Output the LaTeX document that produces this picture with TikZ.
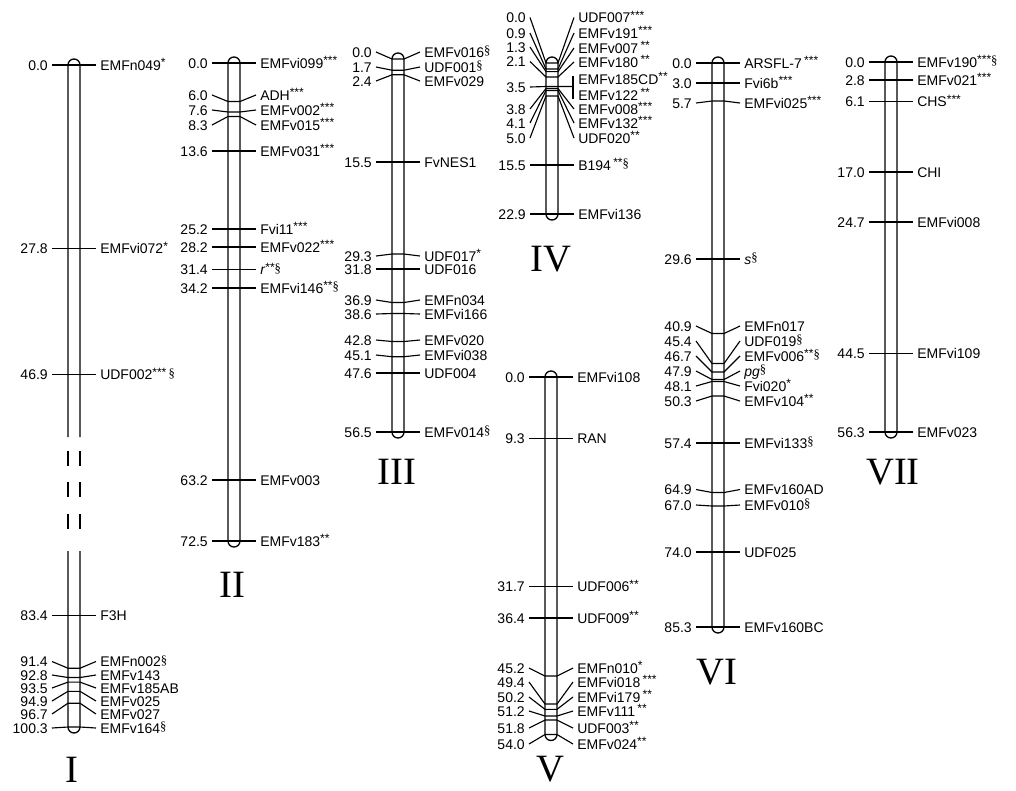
\documentclass[tikz,border=0pt]{standalone}
\usepackage{fontspec}
\setmainfont{Liberation Sans}
\newfontfamily\serif{Liberation Serif}
\newcounter{mk}
\newcommand\sx[1]{\raisebox{2.6pt}{\fontsize{9}{9}\selectfont #1}}
\newcommand\sg{{\serif\fontsize{9.5}{9.5}\selectfont\raisebox{1.6pt}{§}}}
\newcommand\mkr[6]{%
  \stepcounter{mk}%
  \node[numl] (N\themk) at (#1-26,#3) {#5};
  \node[nml] (M\themk) at (#1+26,#4) {#6};
  \coordinate (A\themk) at (#1-6,#2);
  \coordinate (B\themk) at (#1+6,#2);
  \draw[tk] ([xshift=3pt]N\themk.east) -- (A\themk) -- (B\themk) -- ([xshift=-3pt]M\themk.west);
}
\newcommand\chrbar[3]{\draw[barst,rounded corners=4.5pt] (#1-6,#2-6) rectangle (#1+6,#3+6);}
\tikzset{
  numl/.style={anchor=east,inner sep=0pt,text height=7.5pt,text depth=0pt,font=\fontsize{10.5}{12}\selectfont},
  nml/.style={anchor=west,inner sep=0pt,text height=7.5pt,text depth=0pt,font=\fontsize{10.5}{12}\selectfont},
  tk/.style={line width=0.85pt},
  barst/.style={line width=1pt},
  roman/.style={inner sep=0pt,font=\serif\fontsize{29}{29}\selectfont}
}
\begin{document}
\begin{tikzpicture}[x=0.75pt,y=-0.75pt]
\useasboundingbox (0,0) rectangle (1016,790);
% ---------- I ----------
\draw[barst,rounded corners=4.5pt] (68,437) -- (68,59) -- (80,59) -- (80,437);
\draw[barst] (68,451) -- (68,466) (80,451) -- (80,466)
             (68,482) -- (68,497) (80,482) -- (80,497)
             (68,514) -- (68,529) (80,514) -- (80,529);
\draw[barst,rounded corners=4.5pt] (68,551) -- (68,733) -- (80,733) -- (80,551);
\mkr{74}{65}{65}{65}{0.0}{EMFn049\sx{*}}
\mkr{74}{248.5}{248.5}{248.5}{27.8}{EMFvi072\sx{*}}
\mkr{74}{374.5}{374.5}{374.5}{46.9}{UDF002\sx{***}\,\sg}
\mkr{74}{615.5}{615.5}{615.5}{83.4}{F3H}
\mkr{74}{668.2}{661.5}{661.5}{91.4}{EMFn002\sg}
\mkr{74}{677.5}{675}{675}{92.8}{EMFv143}
\mkr{74}{682.1}{688}{688}{93.5}{EMFv185AB}
\mkr{74}{691.3}{701}{701}{94.9}{EMFv025}
\mkr{74}{703.2}{714}{714}{96.7}{EMFv027}
\mkr{74}{727}{728}{728}{100.3}{EMFv164\sg}
\node[roman] (rI) at (72,770) {I};
% ---------- II ----------
\chrbar{234}{63}{541}
\mkr{234}{63}{63}{63}{0.0}{EMFvi099\sx{***}}
\mkr{234}{101.5}{95}{95}{6.0}{ADH\sx{***}}
\mkr{234}{112}{110}{110}{7.6}{EMFv002\sx{***}}
\mkr{234}{116.5}{125}{125}{8.3}{EMFv015\sx{***}}
\mkr{234}{151}{151}{151}{13.6}{EMFv031\sx{***}}
\mkr{234}{229}{229}{229}{25.2}{Fvi11\sx{***}}
\mkr{234}{247}{247}{247}{28.2}{EMFv022\sx{***}}
\mkr{234}{269.5}{269.5}{269.5}{31.4}{\textit{r}\sx{**}\sg}
\mkr{234}{288}{288}{288}{34.2}{EMFvi146\sx{**}\sg}
\mkr{234}{480}{480}{480}{63.2}{EMFv003}
\mkr{234}{541}{541}{541}{72.5}{EMFv183\sx{**}}
\node[roman] (rII) at (232,585) {II};
% ---------- III ----------
\chrbar{398}{59}{432}
\mkr{398}{59}{52}{52}{0.0}{EMFv016\sg}
\mkr{398}{70.2}{67}{67}{1.7}{UDF001\sg}
\mkr{398}{74.8}{81}{81}{2.4}{EMFv029}
\mkr{398}{162}{162}{162}{15.5}{FvNES1}
\mkr{398}{254}{256}{256}{29.3}{UDF017\sx{*}}
\mkr{398}{269}{269}{269}{31.8}{UDF016}
\mkr{398}{302.5}{300}{300}{36.9}{EMFn034}
\mkr{398}{313.5}{314}{314}{38.6}{EMFvi166}
\mkr{398}{341.5}{340}{340}{42.8}{EMFv020}
\mkr{398}{356.7}{355}{355}{45.1}{EMFvi038}
\mkr{398}{373}{373}{373}{47.6}{UDF004}
\mkr{398}{432}{432}{432}{56.5}{EMFv014\sg}
\node[roman] (rIII) at (397,472) {III};
% ---------- IV ----------
\chrbar{552}{63}{214}
\mkr{552}{63}{17.5}{17.5}{0.0}{UDF007\sx{***}}
\mkr{552}{69}{33}{33}{0.9}{EMFv191\sx{***}}
\mkr{552}{71.6}{47}{48}{1.3}{EMFv007\,\sx{**}}
\mkr{552}{77}{61.5}{62}{2.1}{EMFv180\,\sx{**}}
\node[numl] (N35) at (526,87) {3.5};
\coordinate (A35) at (546,86.5);
\coordinate (C35) at (573,86.5);
\coordinate (T35) at (573,76);
\coordinate (U35) at (573,99);
\node[nml] (M35a) at (578,79) {EMFv185CD\sx{**}};
\node[nml] (M35b) at (578,95) {EMFv122\,\sx{**}};
\draw[tk] ([xshift=3pt]N35.east) -- (A35) -- (C35);
\draw[tk] (T35) -- (U35);
\mkr{552}{88.5}{109}{109}{3.8}{EMFv008\sx{***}}
\mkr{552}{90.5}{123}{123}{4.1}{EMFv132\sx{***}}
\mkr{552}{96}{138}{138}{5.0}{UDF020\sx{**}}
\mkr{552}{165}{165}{165}{15.5}{B194\,\sx{**}\sg}
\mkr{552}{214}{214}{214}{22.9}{EMFvi136}
\node[roman] (rIV) at (551,259) {IV};
% ---------- V ----------
\chrbar{551}{377}{734.5}
\mkr{551}{377}{377}{377}{0.0}{EMFvi108}
\mkr{551}{438.5}{438.5}{438.5}{9.3}{RAN}
\mkr{551}{586.5}{586.5}{586.5}{31.7}{UDF006\sx{**}}
\mkr{551}{618}{618}{618}{36.4}{UDF009\sx{**}}
\mkr{551}{676}{668}{668}{45.2}{EMFn010\sx{*}}
\mkr{551}{704}{682}{682}{49.4}{EMFvi018\,\sx{***}}
\mkr{551}{709.3}{697}{697}{50.2}{EMFvi179\,\sx{**}}
\mkr{551}{716}{711}{711}{51.2}{EMFv111\,\sx{**}}
\mkr{551}{720}{728}{728}{51.8}{UDF003\sx{**}}
\mkr{551}{734.5}{744}{744}{54.0}{EMFv024\sx{**}}
\node[roman] (rV) at (550,769) {V};
% ---------- VI ----------
\chrbar{718}{63}{627}
\mkr{718}{63}{63}{63}{0.0}{ARSFL-7\,\sx{***}}
\mkr{718}{83}{83}{83}{3.0}{Fvi6b\sx{***}}
\mkr{718}{101}{103}{103}{5.7}{EMFvi025\sx{***}}
\mkr{718}{259}{259}{259}{29.6}{\textit{s}\sg}
\mkr{718}{333.5}{326}{326}{40.9}{EMFn017}
\mkr{718}{363.5}{341}{341}{45.4}{UDF019\sg}
\mkr{718}{372}{356}{356}{46.7}{EMFv006\sx{**}\sg}
\mkr{718}{379.5}{371}{371}{47.9}{\textit{pg}\sg}
\mkr{718}{381.5}{386}{386}{48.1}{Fvi020\sx{*}}
\mkr{718}{396}{401}{401}{50.3}{EMFv104\sx{**}}
\mkr{718}{443}{443}{443}{57.4}{EMFvi133\sg}
\mkr{718}{492.5}{489.5}{489.5}{64.9}{EMFv160AD}
\mkr{718}{506}{505}{505}{67.0}{EMFv010\sg}
\mkr{718}{552}{552}{552}{74.0}{UDF025}
\mkr{718}{627}{627}{627}{85.3}{EMFv160BC}
\node[roman] (rVI) at (717,672) {VI};
% ---------- VII ----------
\chrbar{891}{62}{432}
\mkr{891}{62}{62}{62}{0.0}{EMFv190\sx{***}\sg}
\mkr{891}{80}{80}{80}{2.8}{EMFv021\sx{***}}
\mkr{891}{101.5}{101.5}{101.5}{6.1}{CHS\sx{***}}
\mkr{891}{172}{172}{172}{17.0}{CHI}
\mkr{891}{222}{222}{222}{24.7}{EMFvi008}
\mkr{891}{353.5}{353.5}{353.5}{44.5}{EMFvi109}
\mkr{891}{432}{432}{432}{56.3}{EMFv023}
\node[roman] (rVII) at (893,472) {VII};
\end{tikzpicture}
\end{document}
